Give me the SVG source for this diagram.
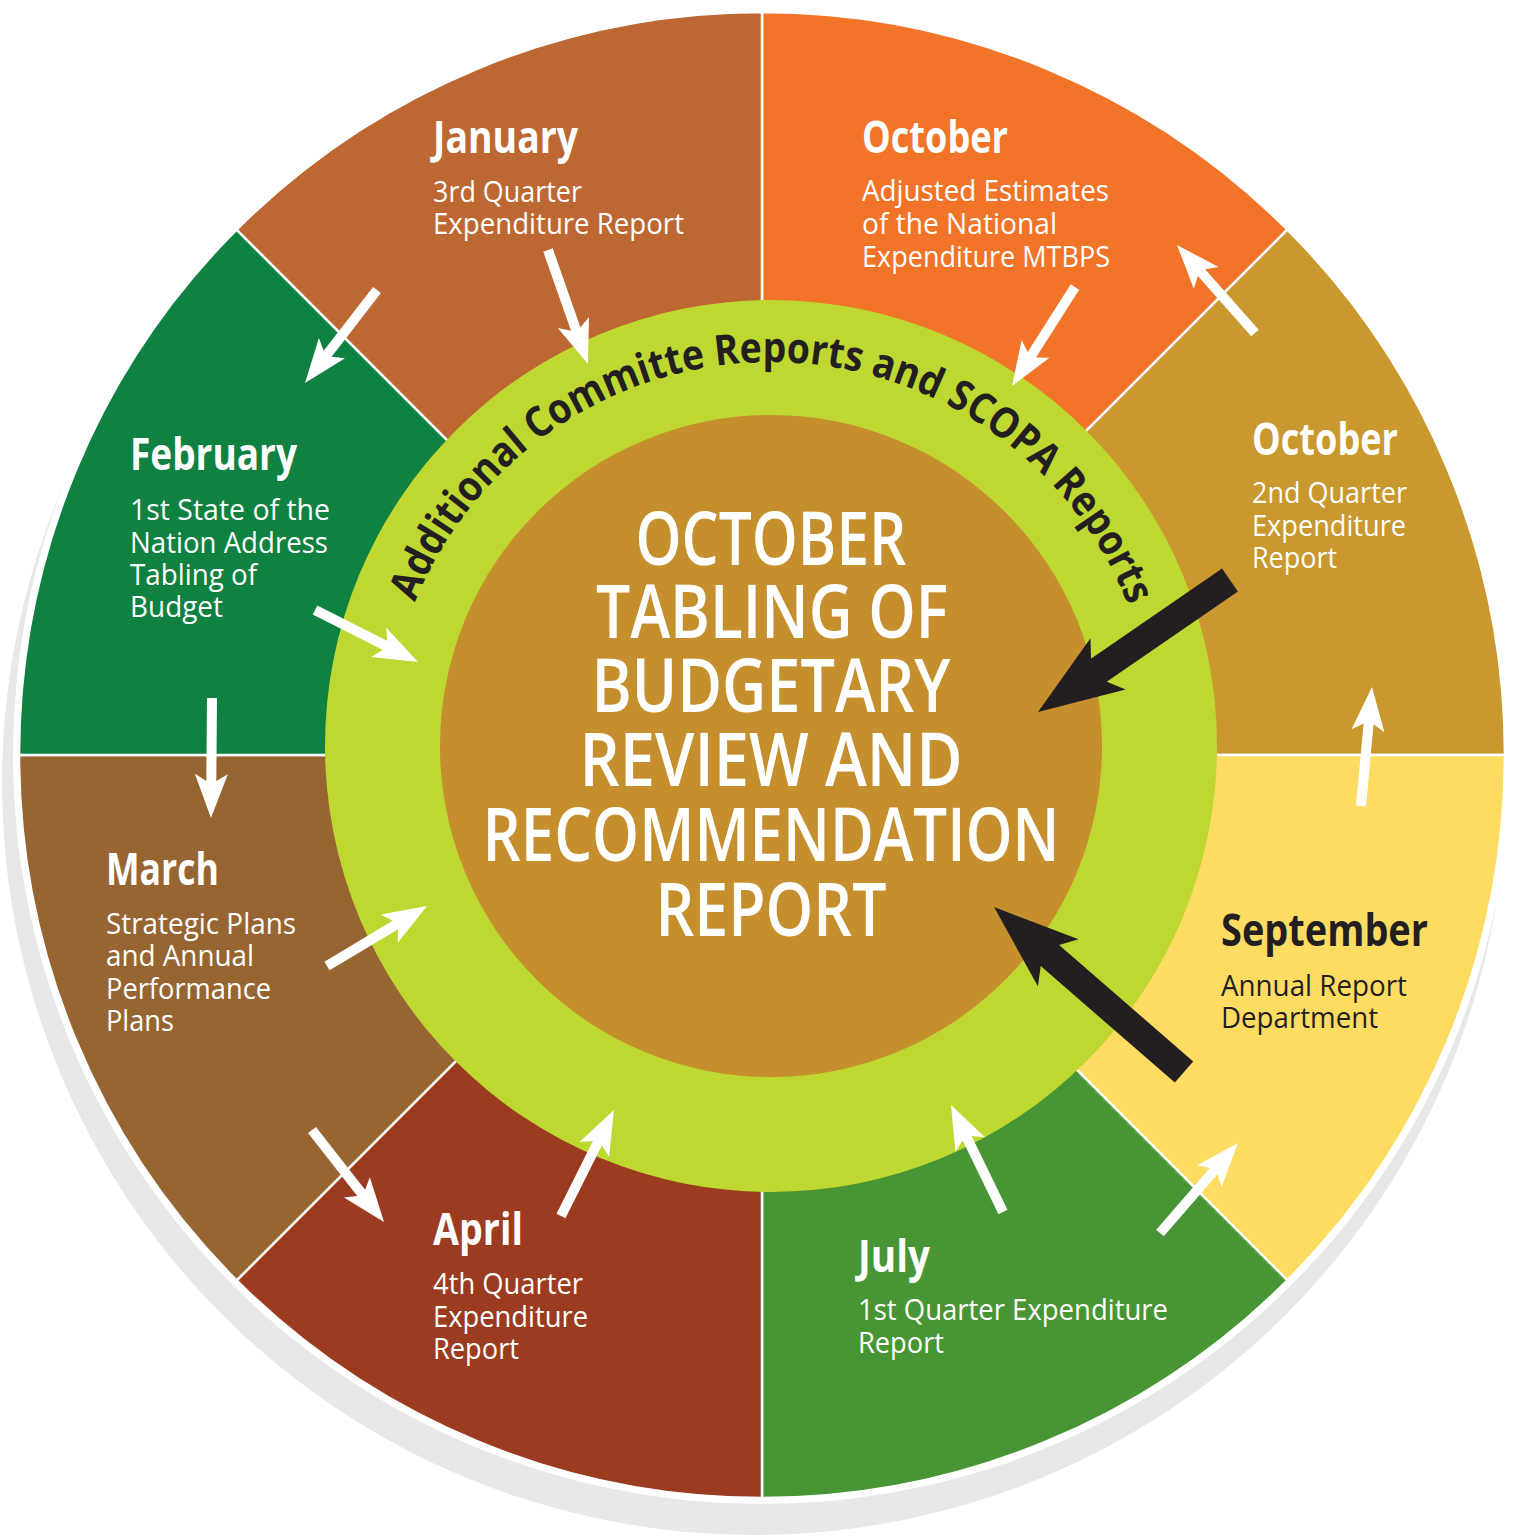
<svg xmlns="http://www.w3.org/2000/svg" width="1517" height="1537" viewBox="0 0 1517 1537">
<style>
.t{font-family:"Open Sans","Noto Sans","DejaVu Sans",sans-serif;}
.ttl{font-family:"Open Sans","Noto Sans","DejaVu Sans",sans-serif;font-weight:700;font-size:44px;fill:#fff;}
.bd{font-family:"Open Sans","Noto Sans","DejaVu Sans",sans-serif;font-weight:400;font-size:30px;fill:#fff;}
.dk{fill:#231F20;}
.ctr{font-family:"Open Sans","Noto Sans","DejaVu Sans",sans-serif;font-weight:600;font-size:74px;fill:#fff;text-anchor:middle;}
.sec{stroke:#fff;stroke-width:2.5;}
.wa{stroke:#fff;stroke-width:10;fill:none;marker-end:url(#wh);}
.ba{stroke:#231F20;stroke-width:28;fill:none;marker-end:url(#bh);}
</style>
<defs>
<marker id="wh" markerUnits="userSpaceOnUse" orient="auto" refX="19" refY="0" markerWidth="60" markerHeight="40" overflow="visible">
<path d="M0,-16.5 L44,0 L0,16.5 L7,5 L7,-5 Z" fill="#fff"/>
</marker>
<marker id="bh" markerUnits="userSpaceOnUse" orient="auto" refX="35" refY="0" markerWidth="100" markerHeight="80" overflow="visible">
<path d="M0,-31 L85,0 L0,31 L11,14 L11,-14 Z" fill="#231F20"/>
</marker>
<path id="arcText" d="M415,602.2 A384,384 0 0 1 1129.5,608.4"/>
</defs>
<rect width="1517" height="1537" fill="#fff"/>
<circle cx="754" cy="783" r="752" fill="#E8E8E8"/>
<circle cx="762" cy="755" r="749" fill="#fff"/>

<g id="oct-top">
<path class="sec" d="M762,755 L762,12 A743,743 0 0 1 1287.4,229.6 Z" fill="#F17428"/>
</g>
<g id="oct-right-bg">
<path class="sec" d="M762,755 L1287.4,229.6 A743,743 0 0 1 1505,755 Z" fill="#C9982E"/>
</g>
<g id="sept-bg">
<path class="sec" d="M762,755 L1505,755 A743,743 0 0 1 1287.4,1280.4 Z" fill="#FEDC62"/>
</g>
<g id="july-bg">
<path class="sec" d="M762,755 L1287.4,1280.4 A743,743 0 0 1 762,1498 Z" fill="#489535"/>
</g>
<g id="april-bg">
<path class="sec" d="M762,755 L762,1498 A743,743 0 0 1 236.6,1280.4 Z" fill="#9B3C21"/>
</g>
<g id="march-bg">
<path class="sec" d="M762,755 L236.6,1280.4 A743,743 0 0 1 19,755 Z" fill="#976532"/>
</g>
<g id="feb-bg">
<path class="sec" d="M762,755 L19,755 A743,743 0 0 1 236.6,229.6 Z" fill="#0F8140"/>
</g>
<g id="jan-bg">
<path class="sec" d="M762,755 L236.6,229.6 A743,743 0 0 1 762,12 Z" fill="#BD6833"/>
</g>

<g id="ring">
<circle cx="771" cy="746" r="446" fill="#BED731"/>
<text class="t" font-weight="700" font-size="42" fill="#231F20"><textPath href="#arcText" textLength="915" lengthAdjust="spacingAndGlyphs">Additional Committe Reports and SCOPA Reports</textPath></text>
</g>

<g id="center">
<circle cx="771" cy="746" r="331" fill="#C68F2D"/>
<text class="ctr" x="771" y="565" textLength="271" lengthAdjust="spacingAndGlyphs">OCTOBER</text>
<text class="ctr" x="772" y="638" textLength="352" lengthAdjust="spacingAndGlyphs">TABLING OF</text>
<text class="ctr" x="771" y="712" textLength="359" lengthAdjust="spacingAndGlyphs">BUDGETARY</text>
<text class="ctr" x="771" y="786" textLength="383" lengthAdjust="spacingAndGlyphs">REVIEW AND</text>
<text class="ctr" x="771" y="861" textLength="577" lengthAdjust="spacingAndGlyphs">RECOMMENDATION</text>
<text class="ctr" x="771" y="936" textLength="231" lengthAdjust="spacingAndGlyphs">REPORT</text>
</g>

<g id="january">
<text class="ttl" x="433" y="153" textLength="145" lengthAdjust="spacingAndGlyphs">January</text>
<text class="bd" x="433" y="202" textLength="149" lengthAdjust="spacingAndGlyphs">3rd Quarter</text>
<text class="bd" x="433" y="234" textLength="251" lengthAdjust="spacingAndGlyphs">Expenditure Report</text>
</g>
<g id="october-top">
<text class="ttl" x="862" y="153" textLength="146" lengthAdjust="spacingAndGlyphs">October</text>
<text class="bd" x="862" y="201" textLength="247" lengthAdjust="spacingAndGlyphs">Adjusted Estimates</text>
<text class="bd" x="862" y="234" textLength="195" lengthAdjust="spacingAndGlyphs">of the National</text>
<text class="bd" x="862" y="267" textLength="248" lengthAdjust="spacingAndGlyphs">Expenditure MTBPS</text>
</g>
<g id="october-right">
<text class="ttl" x="1252" y="455" textLength="146" lengthAdjust="spacingAndGlyphs">October</text>
<text class="bd" x="1252" y="503" textLength="155" lengthAdjust="spacingAndGlyphs">2nd Quarter</text>
<text class="bd" x="1252" y="536" textLength="154" lengthAdjust="spacingAndGlyphs">Expenditure</text>
<text class="bd" x="1252" y="568" textLength="85" lengthAdjust="spacingAndGlyphs">Report</text>
</g>
<g id="september">
<text class="ttl dk" x="1221" y="946" textLength="207" lengthAdjust="spacingAndGlyphs">September</text>
<text class="bd dk" x="1221" y="996" textLength="186" lengthAdjust="spacingAndGlyphs">Annual Report</text>
<text class="bd dk" x="1221" y="1028" textLength="157" lengthAdjust="spacingAndGlyphs">Department</text>
</g>
<g id="july">
<text class="ttl" x="858" y="1272" textLength="72" lengthAdjust="spacingAndGlyphs">July</text>
<text class="bd" x="858" y="1320" textLength="310" lengthAdjust="spacingAndGlyphs">1st Quarter Expenditure</text>
<text class="bd" x="858" y="1353" textLength="86" lengthAdjust="spacingAndGlyphs">Report</text>
</g>
<g id="april">
<text class="ttl" x="433" y="1245" textLength="90" lengthAdjust="spacingAndGlyphs">April</text>
<text class="bd" x="433" y="1294" textLength="150" lengthAdjust="spacingAndGlyphs">4th Quarter</text>
<text class="bd" x="433" y="1327" textLength="155" lengthAdjust="spacingAndGlyphs">Expenditure</text>
<text class="bd" x="433" y="1359" textLength="86" lengthAdjust="spacingAndGlyphs">Report</text>
</g>
<g id="march">
<text class="ttl" x="106" y="885" textLength="113" lengthAdjust="spacingAndGlyphs">March</text>
<text class="bd" x="106" y="934" textLength="190" lengthAdjust="spacingAndGlyphs">Strategic Plans</text>
<text class="bd" x="106" y="966" textLength="148" lengthAdjust="spacingAndGlyphs">and Annual</text>
<text class="bd" x="106" y="999" textLength="165" lengthAdjust="spacingAndGlyphs">Performance</text>
<text class="bd" x="106" y="1031" textLength="68" lengthAdjust="spacingAndGlyphs">Plans</text>
</g>
<g id="february">
<text class="ttl" x="130" y="470" textLength="167" lengthAdjust="spacingAndGlyphs">February</text>
<text class="bd" x="130" y="520" textLength="200" lengthAdjust="spacingAndGlyphs">1st State of the</text>
<text class="bd" x="130" y="553" textLength="198" lengthAdjust="spacingAndGlyphs">Nation Address</text>
<text class="bd" x="130" y="585" textLength="127" lengthAdjust="spacingAndGlyphs">Tabling of</text>
<text class="bd" x="130" y="617" textLength="93" lengthAdjust="spacingAndGlyphs">Budget</text>
</g>

<g id="connectors">
<line class="wa" x1="548" y1="250" x2="579.7" y2="340.4"/>
<line class="wa" x1="377" y1="290" x2="320.3" y2="363.2"/>
<line class="wa" x1="1075" y1="287" x2="1025.4" y2="364.9"/>
<line class="wa" x1="1255" y1="333" x2="1193.6" y2="263.7"/>
<line class="wa" x1="315" y1="610" x2="395.7" y2="650.7"/>
<line class="wa" x1="212" y1="698" x2="211.2" y2="793"/>
<line class="wa" x1="327" y1="966" x2="405.6" y2="918.9"/>
<line class="wa" x1="312" y1="1130" x2="368.6" y2="1202.3"/>
<line class="wa" x1="561" y1="1216" x2="602.8" y2="1132.4"/>
<line class="wa" x1="1003" y1="1212" x2="961.9" y2="1127.5"/>
<line class="wa" x1="1160" y1="1233" x2="1221.6" y2="1161.9"/>
<line class="wa" x1="1361" y1="806" x2="1369.7" y2="711.9"/>
<line class="ba" x1="1230" y1="580" x2="1079.2" y2="683.7"/>
<line class="ba" x1="1184" y1="1072" x2="1031.8" y2="939.8"/>
</g>
</svg>
